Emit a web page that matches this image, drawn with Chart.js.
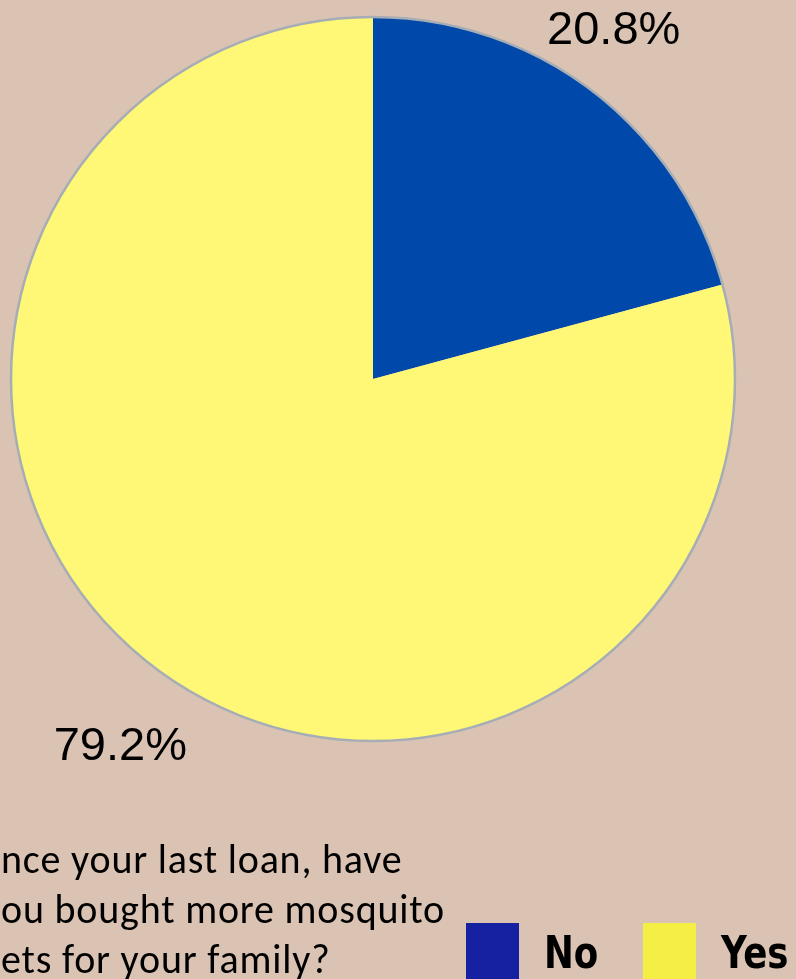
<!DOCTYPE html>
<html>
<head>
<meta charset="utf-8">
<title>Mosquito nets</title>
<script src="https://cdn.jsdelivr.net/npm/chart.js@4/dist/chart.umd.min.js"></script>
<style>
    html, body {
        margin: 0;
        padding: 0;
        background: #dbc3b4;
        overflow: hidden;
    }
    #wrap {
        position: relative;
        width: 796px;
        height: 979px;
        overflow: hidden;
    }
    #net_chart {
        position: absolute;
        left: 0;
        top: 0;
    }
    #question {
        position: absolute;
        left: 1px;
        top: 835px;
        font-family: Carlito, Lato, sans-serif;
        font-size: 40px;
        letter-spacing: 0.8px;
        line-height: 50px;
        color: #000000;
        white-space: nowrap;
    }
    #legend {
        position: absolute;
        left: 466px;
        top: 923px;
        margin: 0;
        padding: 0;
        list-style: none;
        display: flex;
    }
    #legend li {
        width: 177px;
        display: flex;
        align-items: flex-start;
    }
    #legend .box {
        width: 53px;
        height: 60px;
        margin-right: 25px;
    }
    #legend .txt {
        display: inline-block;
        font-family: "Liberation Sans Narrow", "DejaVu Sans Condensed", sans-serif;
        font-weight: bold;
        font-size: 45px;
        line-height: 45px;
        margin-top: 7px;
        transform: scaleX(0.88);
        transform-origin: left top;
    }
</style>
</head>
<body>
<div id="wrap">
    <canvas id="net_chart" width="796" height="979"></canvas>
    <div id="question">nce your last loan, have<br>ou bought more mosquito<br>ets for your family?</div>
    <ul id="legend"></ul>
</div>

<script>
    var answers = ["No", "Yes"];
    var shares = [20.8, 79.2];
    var shareLabels = ["20.8%", "79.2%"];

    var sliceColors = ["#0048aa", "#fff776"];
    var keyColors = ["#1521a0", "#f5ef45"];

    //labels sit a bit outside the pie, then get nudged into place
    var labelDistance = 1.18;
    var labelNudge = [[-19, -9], [7, 29]];

    //percent text next to every slice
    var sliceLabels = {
        id: "sliceLabels",
        afterDatasetsDraw: function (chart) {
            var ctx = chart.ctx;
            var meta = chart.getDatasetMeta(0);
            ctx.save();
            ctx.font = "47px 'Liberation Sans', Arial, sans-serif";
            ctx.fillStyle = "#000000";
            ctx.textAlign = "center";
            ctx.textBaseline = "middle";
            for (var i = 0; i < meta.data.length; i++) {
                var arc = meta.data[i];
                var mid = (arc.startAngle + arc.endAngle) / 2;
                var d = arc.outerRadius * labelDistance;
                var x = arc.x + Math.cos(mid) * d + labelNudge[i][0];
                var y = arc.y + Math.sin(mid) * d + labelNudge[i][1];
                ctx.fillText(shareLabels[i], x, y);
            }
            ctx.restore();
        }
    };

    //thin grey rim round the whole pie, not between the slices
    var pieRim = {
        id: "pieRim",
        afterDatasetsDraw: function (chart) {
            var ctx = chart.ctx;
            var arc = chart.getDatasetMeta(0).data[0];
            ctx.save();
            ctx.beginPath();
            ctx.arc(arc.x, arc.y, arc.outerRadius, 0, Math.PI * 2);
            ctx.strokeStyle = "#a7adb4";
            ctx.lineWidth = 2.5;
            ctx.stroke();
            ctx.restore();
        }
    };

    var chart = new Chart(document.getElementById("net_chart"), {
        type: "pie",
        data: {
            labels: answers,
            datasets: [{
                data: shares,
                backgroundColor: sliceColors,
                borderWidth: 0
            }]
        },
        options: {
            responsive: false,
            animation: false,
            layout: {
                padding: {
                    left: 11,
                    right: 61,
                    top: 16,
                    bottom: 237
                }
            },
            plugins: {
                legend: { display: false },
                tooltip: { enabled: false }
            }
        },
        plugins: [sliceLabels, pieRim]
    });

    //key below the pie
    var legend = document.getElementById("legend");
    for (var i = 0; i < answers.length; i++) {
        var li = document.createElement("li");
        var box = document.createElement("span");
        box.className = "box";
        box.style.background = keyColors[i];
        var txt = document.createElement("span");
        txt.className = "txt";
        txt.textContent = answers[i];
        li.appendChild(box);
        li.appendChild(txt);
        legend.appendChild(li);
    }
</script>
</body>
</html>
